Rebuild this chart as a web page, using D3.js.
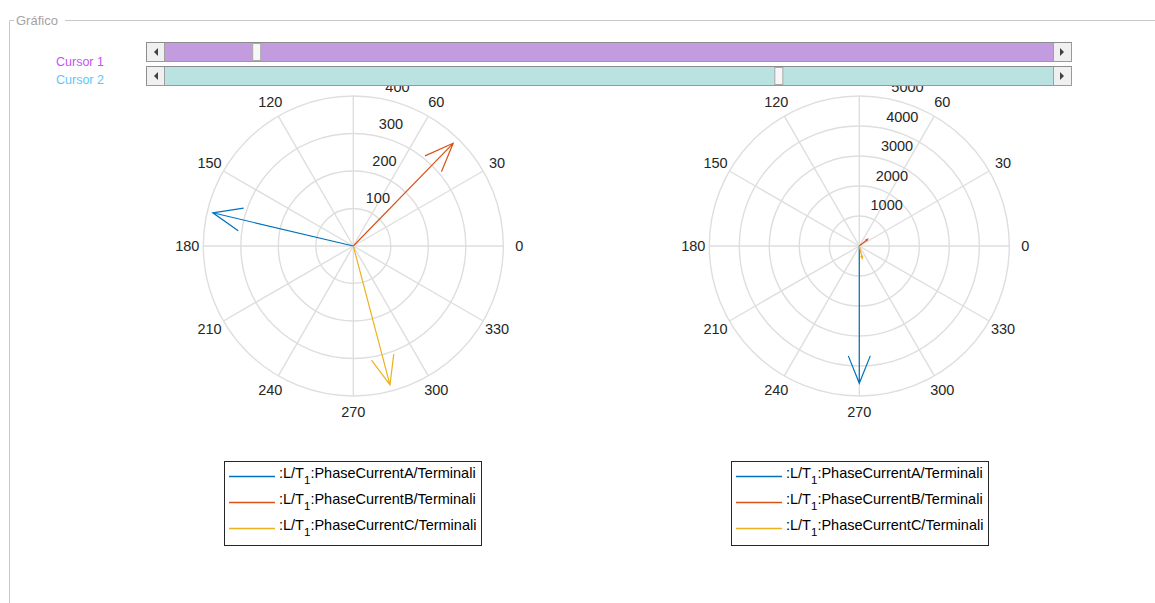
<!DOCTYPE html>
<html>
<head>
<meta charset="utf-8">
<script src="https://cdn.jsdelivr.net/npm/d3@7"></script>
<style>
  html, body { margin: 0; padding: 0; background: #ffffff; }
  svg { display: block; font-family: Arial, "Liberation Sans", Helvetica, sans-serif; }
</style>
</head>
<body>
<svg id="chart" width="1155" height="603"></svg>
<script>
// Phase current phasors at the two cursor positions
const seriesNames = [":L/T", ":L/T", ":L/T"];
const phaseNames = ["PhaseCurrentA", "PhaseCurrentB", "PhaseCurrentC"];
const seriesColors = ["#0072BD", "#D95319", "#EDB120"];

// Cursor 1: magnitude (A) and angle (deg)
const cursor1Magnitude = [385, 382, 383];
const cursor1Angle = [166.7, 45.8, 284.8];

// Cursor 2: magnitude (A) and angle (deg)
const cursor2Magnitude = [4577, 356, 423];
const cursor2Angle = [270, 38.9, 283.7];

// Axis ticks
const thetaTicks = [0, 30, 60, 90, 120, 150, 180, 210, 240, 270, 300, 330];
const rTicks1 = [100, 200, 300, 400];
const rTicks2 = [1000, 2000, 3000, 4000, 5000];

// Slider positions (fraction of the track)
const cursorLabels = ["Cursor 1", "Cursor 2"];
const cursorLabelColors = ["#c552f5", "#5ec8f2"];
const sliderTrackColors = ["#c39bdf", "#bae2e0"];
const sliderValues = [0.10, 0.692];

const svg = d3.select("#chart");

// ---- Panel frame ----
const frame = svg.append("g");
frame.append("path")
  .attr("d", "M9.5,603 L9.5,20.5 L14,20.5")
  .attr("fill", "none").attr("stroke", "#c8c8c8").attr("stroke-width", 1);
frame.append("path")
  .attr("d", "M65,20.5 L1155,20.5")
  .attr("fill", "none").attr("stroke", "#c8c8c8").attr("stroke-width", 1);
frame.append("text")
  .attr("x", 16).attr("y", 25)
  .attr("font-size", 13).attr("fill", "#a3a3a3")
  .text("Gráfico");

// ---- Polar compass plot ----
function compassPlot(cx, cy, rMax, rTicks, mags, angs) {
  const g = svg.append("g");
  const r = d3.scaleLinear().domain([0, rTicks[rTicks.length - 1]]).range([0, rMax]);
  const toXY = (mag, deg) => {
    const a = deg * Math.PI / 180;
    return [mag * Math.cos(a), mag * Math.sin(a)];
  };
  const px = v => cx + r(v);
  const py = v => cy - r(v);

  // spokes
  g.selectAll("line.spoke").data(thetaTicks).join("line")
    .attr("class", "spoke")
    .attr("x1", cx).attr("y1", cy)
    .attr("x2", d => cx + rMax * Math.cos(d * Math.PI / 180))
    .attr("y2", d => cy - rMax * Math.sin(d * Math.PI / 180))
    .attr("stroke", "#dedede").attr("stroke-width", 1.4);

  // rings
  g.selectAll("circle.ring").data(rTicks).join("circle")
    .attr("class", "ring")
    .attr("cx", cx).attr("cy", cy).attr("r", d => r(d))
    .attr("fill", "none").attr("stroke", "#dedede").attr("stroke-width", 1.4);

  // angle labels
  g.selectAll("text.theta").data(thetaTicks).join("text")
    .attr("class", "theta")
    .attr("x", d => cx + (rMax + 16) * Math.cos(d * Math.PI / 180))
    .attr("y", d => cy - (rMax + 16) * Math.sin(d * Math.PI / 180))
    .attr("text-anchor", "middle").attr("dominant-baseline", "central")
    .attr("font-size", 14.5).attr("fill", "#262626")
    .text(d => d);

  // radial labels along 80 degrees
  const ra = 80 * Math.PI / 180;
  g.selectAll("text.rtick").data(rTicks).join("text")
    .attr("class", "rtick")
    .attr("x", d => cx + r(d) * Math.cos(ra) + 6)
    .attr("y", d => cy - r(d) * Math.sin(ra) - 6)
    .attr("text-anchor", "start")
    .attr("font-size", 14.5).attr("fill", "#262626")
    .text(d => d);

  // compass arrows: shaft plus arrowhead at 0.8 length, +/-0.08 wide
  const line = d3.line().x(d => px(d[0])).y(d => py(d[1]));
  mags.forEach((m, i) => {
    const [zx, zy] = toXY(m, angs[i]);
    const shape = [[0, 0], [1, 0], [0.8, 0.08], [1, 0], [0.8, -0.08]];
    const pts = shape.map(([a, b]) => [a * zx - b * zy, a * zy + b * zx]);
    g.append("path")
      .attr("d", line(pts))
      .attr("fill", "none")
      .attr("stroke", seriesColors[i])
      .attr("stroke-width", 1.2)
      .attr("stroke-linejoin", "miter");
  });
  return g;
}

function legend(x0, y0, w, h) {
  const g = svg.append("g");
  g.append("rect")
    .attr("x", x0 + 0.5).attr("y", y0 + 0.5).attr("width", w).attr("height", h)
    .attr("fill", "#ffffff").attr("stroke", "#262626").attr("stroke-width", 1);
  const rowY = d3.scalePoint().domain(d3.range(phaseNames.length)).range([y0 + 15.5, y0 + 67.5]);
  phaseNames.forEach((p, i) => {
    const y = rowY(i);
    g.append("line")
      .attr("x1", x0 + 5).attr("x2", x0 + 51)
      .attr("y1", y).attr("y2", y)
      .attr("stroke", seriesColors[i]).attr("stroke-width", 1.3);
    const t = g.append("text")
      .attr("x", x0 + 55).attr("y", y + 1.5)
      .attr("font-size", 14.5).attr("fill", "#000000");
    t.append("tspan").text(seriesNames[i]);
    t.append("tspan").attr("dy", 5.5).attr("font-size", 11.5).text("1");
    t.append("tspan").attr("dy", -5.5).text(":" + p + "/Terminali");
  });
}

compassPlot(353.3, 246, 150, rTicks1, cursor1Magnitude, cursor1Angle);
compassPlot(859.3, 246, 150, rTicks2, cursor2Magnitude, cursor2Angle);
legend(224, 461, 257, 84);
legend(731, 461, 257, 84);

// ---- Cursor sliders ----
function slider(y, idx, labelY) {
  const g = svg.append("g");
  const x0 = 146, x1 = 1072, h = 20, btn = 18;
  const pos = d3.scaleLinear().domain([0, 1]).range([x0 + btn, x1 - btn - 8]);
  g.append("rect").attr("x", x0).attr("y", y).attr("width", x1 - x0).attr("height", h)
    .attr("fill", sliderTrackColors[idx]);
  g.append("path")
    .attr("d", `M${x0 + 0.5},${y + h} L${x0 + 0.5},${y + 0.5} L${x1},${y + 0.5}`)
    .attr("fill", "none").attr("stroke", "#8c8c8c");
  g.append("path")
    .attr("d", `M${x0},${y + h - 0.5} L${x1 - 0.5},${y + h - 0.5} L${x1 - 0.5},${y}`)
    .attr("fill", "none").attr("stroke", "#9a9a9a");
  // arrow buttons
  [[x0 + 1, "left"], [x1 - btn - 1, "right"]].forEach(([bx, dir]) => {
    g.append("rect").attr("x", bx).attr("y", y + 1).attr("width", btn).attr("height", h - 2)
      .attr("fill", "#f0f0f0");
    g.append("line").attr("x1", dir === "left" ? bx + btn - 0.5 : bx + 0.5)
      .attr("x2", dir === "left" ? bx + btn - 0.5 : bx + 0.5)
      .attr("y1", y + 1).attr("y2", y + h - 1).attr("stroke", "#a0a0a0");
    const mx = bx + btn / 2, my = y + h / 2;
    const tri = dir === "left"
      ? `M${mx + 2},${my - 4} L${mx - 2},${my} L${mx + 2},${my + 4} Z`
      : `M${mx - 2},${my - 4} L${mx + 2},${my} L${mx - 2},${my + 4} Z`;
    g.append("path").attr("d", tri).attr("fill", "#404040");
  });
  // thumb
  const tx = pos(sliderValues[idx]);
  g.append("rect").attr("x", tx + 0.5).attr("y", y + 1.5).attr("width", 8).attr("height", h - 3)
    .attr("fill", "#f7f7f7").attr("stroke", "#a8a8a8");
  // label
  svg.append("text")
    .attr("x", 56).attr("y", labelY)
    .attr("font-size", 12.5).attr("fill", cursorLabelColors[idx])
    .text(cursorLabels[idx]);
}
slider(42, 0, 66);
slider(66, 1, 84);
</script>
</body>
</html>
